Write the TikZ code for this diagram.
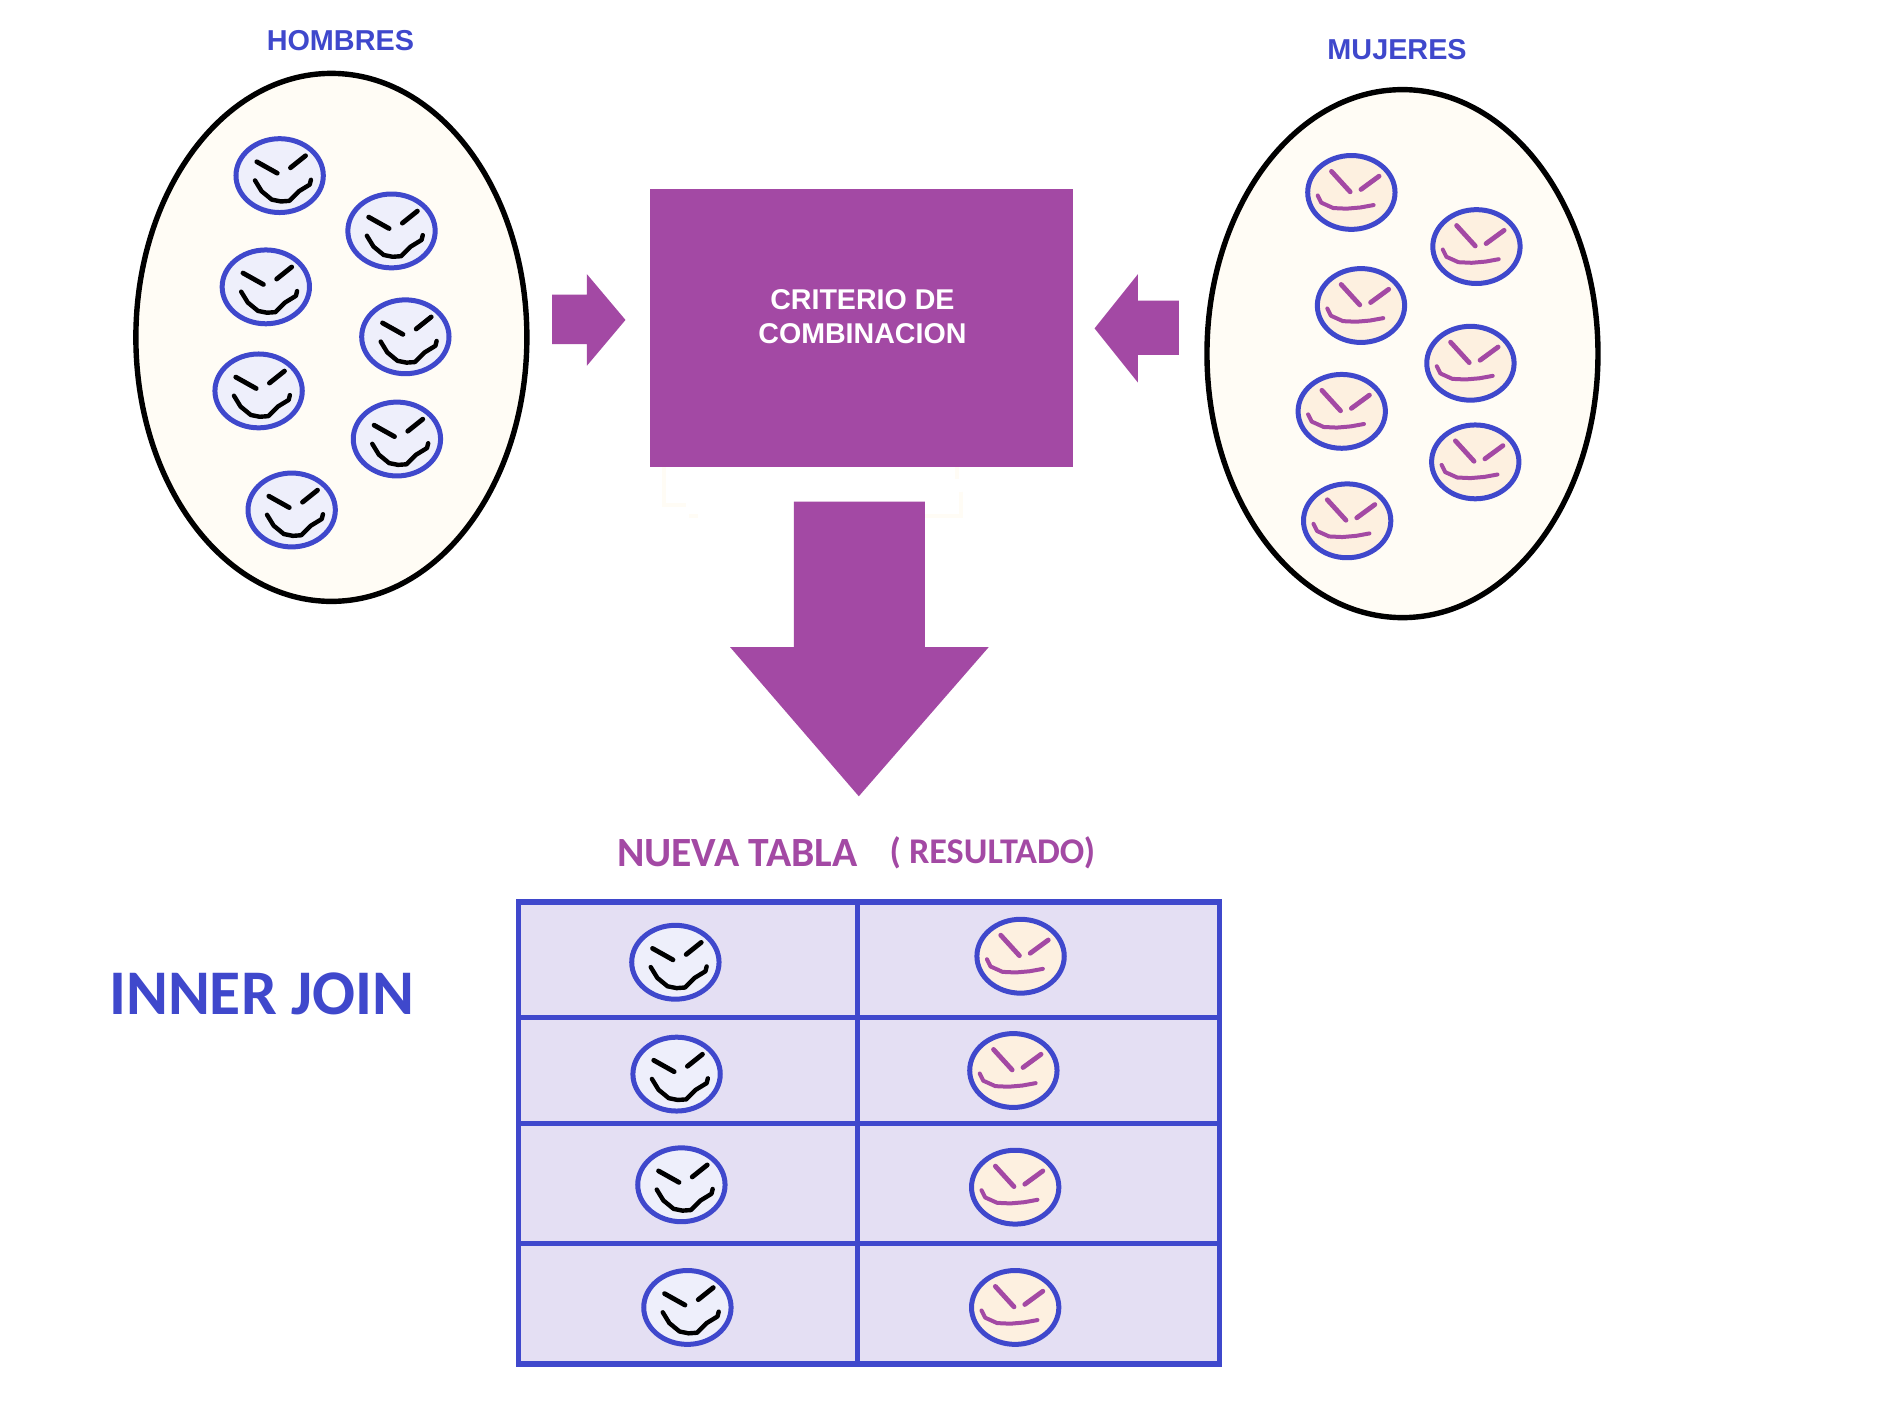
\documentclass[tikz,border=0pt]{standalone}
\usepackage{fontspec}
\usetikzlibrary{shapes.geometric}
\setmainfont{Liberation Sans}
\newfontfamily\carl{Carlito}
\definecolor{jblue}{HTML}{3F48CC}
\definecolor{jpurple}{HTML}{A349A4}
\definecolor{jcream}{HTML}{FFFCF5}
\definecolor{jmanfill}{HTML}{EEEFFB}
\definecolor{jwomanfill}{HTML}{FDF0E0}
\definecolor{jtable}{HTML}{E4DFF3}
\tikzset{
  x=0.6014pt,y=-0.6014pt,
  bag/.style={draw=black,line width=2.7pt,fill=jcream,ellipse,inner sep=0pt,minimum width=195.5pt,minimum height=264pt},
  head/.style={draw=jblue,line width=2.5pt},
  brow/.style={line width=2.4pt,line cap=round,line join=round},
  smile/.style={line width=2pt,line cap=round,line join=round},
  solidarrow/.style={fill=jpurple,draw=none},
  cell/.style={draw=jblue,line width=2.7pt,fill=jtable},
  scrap/.style={draw=jcream,line width=2pt},
  heading/.style={text=jblue,font=\fontsize{14.4pt}{17pt}\selectfont\bfseries,inner sep=0pt},
  hombre/.pic={
    \draw[head,fill=jmanfill] (0,0) ellipse [x radius=36.3,y radius=30.7];
    \draw[brow,black] (-19,-11.5) -- (-2,-2);
    \draw[brow,black] (9,-6.5) -- (21.5,-16.5);
    \draw[smile,black,line width=2.2pt] (-20.5,4) -- (-15,13) -- (-6.5,20) -- (1,21.5) -- (8,21) -- (16,13) -- (25,7.5) -- (26,3.5);
  },
  mujer/.pic={
    \draw[head,fill=jwomanfill] (0,0) ellipse [x radius=36.3,y radius=30.7];
    \draw[brow,jpurple] (-16.5,-17.5) -- (-1,-0.5);
    \draw[brow,jpurple] (8,-2.5) -- (23,-13.5);
    \draw[smile,jpurple] (-28,2.5) -- (-25,8.5) -- (-15,13) -- (-4,13.5) -- (7.5,12.5) -- (18.5,10.5);
  }
}
\begin{document}
\begin{tikzpicture}
\useasboundingbox (0,0) rectangle (1568,1169);
\fill[white] (0,0) rectangle (1568,1169);

% pale marks under the box
\draw[scrap] (552,388) -- (552,420) -- (570,420);
\draw[scrap] (573,429) -- (580,429);
\draw[scrap] (796,388) -- (796,398);
\draw[scrap] (799,409) -- (799,429) -- (769,429);

% the two sets
\node[bag] (setmen) at (275.5,280.5) {};
\node[bag] (setwomen) at (1166,294) {};
\node[heading] (hombres) at (283,33.5) {HOMBRES};
\node[heading] (mujeres) at (1161.5,41.5) {MUJERES};

\foreach \px/\py in {232.5/146,325.5/192,221/238.5,337/280,215/325,330/365,242.5/424}
  \pic at (\px,\py) {hombre};
\foreach \px/\py in {1123.5/160,1227.5/205,1131.5/254,1222.5/302,1115.5/342,1226.5/384,1120/433}
  \pic at (\px,\py) {mujer};

% criterion box
\fill[jpurple] (540,157) rectangle (892,388);
\node[text=white,font=\fontsize{14.3pt}{16.8pt}\selectfont\bfseries,align=center,inner sep=0pt] (criterio) at (717,263.5) {CRITERIO DE\\COMBINACION};

% arrows
\fill[solidarrow] (459,245) -- (488,245) -- (488,228) -- (520,266) -- (488,304) -- (488,286) -- (459,286) -- cycle;
\fill[solidarrow] (980,250) -- (946,250) -- (946,228) -- (910,273) -- (946,318) -- (946,295) -- (980,295) -- cycle;
\fill[solidarrow] (660,417) -- (769,417) -- (769,538) -- (822,538) -- (714,662) -- (607,538) -- (660,538) -- cycle;

% result heading
\node[text=jpurple,font=\carl\fontsize{20.8pt}{24pt}\selectfont\bfseries,inner sep=0pt] (nueva) at (613,709) {NUEVA TABLA};
\node[text=jpurple,font=\carl\fontsize{18.1pt}{22pt}\selectfont\bfseries,inner sep=0pt] (resultado) at (825,709) {( RESULTADO)};
\node[text=jblue,font=\carl\fontsize{31.8pt}{38pt}\selectfont\bfseries,inner sep=0pt] (inner) at (217.5,826) {INNER JOIN};

% table
\draw[cell] (431,750) rectangle (1014,1134);
\draw[cell] (713,750) -- (713,1134);
\draw[cell] (431,846) -- (1014,846);
\draw[cell] (431,934) -- (1014,934);
\draw[cell] (431,1034) -- (1014,1034);

\foreach \px/\py in {561.5/800,562.5/893,566.5/985,571.5/1087}
  \pic at (\px,\py) {hombre};
\foreach \px/\py in {848.5/795,842.5/890,844/987,844/1087}
  \pic at (\px,\py) {mujer};
\end{tikzpicture}
\end{document}
